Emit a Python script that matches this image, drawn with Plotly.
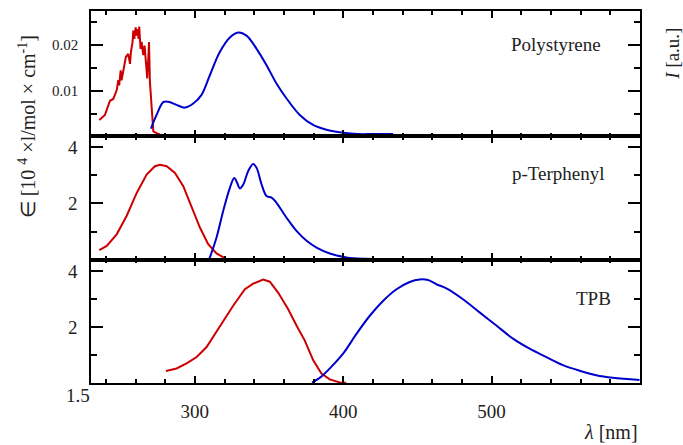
import plotly.graph_objects as go

# ---------------- data ----------------
ps_abs_x = [235.6, 239.4, 242.8, 245.0, 247.3, 248.4, 249.0, 250.0, 250.6, 252.2, 253.5, 255.1, 256.3, 256.9,
            258.0, 258.5, 259.2, 260.1, 260.8, 261.4, 262.1, 262.5, 263.4, 264.1, 265.2, 266.1, 267.0, 267.9,
            268.6, 269.1, 269.7, 270.9, 272.0, 274.2, 276.5]
ps_abs_y = [0.0036, 0.0047, 0.0078, 0.0082, 0.0101, 0.0123, 0.0112, 0.0145, 0.0123, 0.0152, 0.0174, 0.0181,
            0.0159, 0.0185, 0.0207, 0.0232, 0.0214, 0.0239, 0.0221, 0.0235, 0.0214, 0.0241, 0.0192, 0.0207,
            0.0178, 0.0199, 0.0167, 0.0127, 0.0170, 0.0207, 0.0120, 0.0054, 0.0011, 0.0007, 0.0004]
ps_em_x = [270.4, 274.2, 278.7, 282.0, 287.7, 293.3, 298.9, 304.5, 310.1, 316.8, 323.6, 329.2, 334.8, 341.6,
           348.3, 355.0, 361.8, 370.7, 379.7, 388.7, 399.9, 410.0, 420.0, 433.6]
ps_em_y = [0.0017, 0.0047, 0.0075, 0.0076, 0.0069, 0.0063, 0.0072, 0.0091, 0.0134, 0.0185, 0.0217, 0.0228,
           0.0221, 0.0192, 0.0156, 0.0116, 0.0083, 0.0047, 0.0025, 0.00145, 0.0008, 0.0005, 0.0005, 0.0005]

pt_abs_x = [235.6, 240.6, 247.3, 254.0, 260.8, 267.5, 273.1, 276.5, 281.0, 286.6, 292.2, 297.8, 303.4, 309.0,
            314.6, 321.4]
pt_abs_y = [0.34, 0.49, 0.90, 1.55, 2.37, 3.02, 3.32, 3.37, 3.32, 3.08, 2.61, 1.90, 1.14, 0.55, 0.22, 0.02]
pt_em_x = [309.7, 314.6, 319.1, 323.6, 326.5, 328.5, 330.3, 332.6, 335.9, 339.3, 341.6, 345.0, 348.3, 351.7,
           355.0, 361.8, 368.5, 375.3, 382.0, 391.0, 402.2, 415.0, 430.0]
pt_em_y = [0.02, 0.79, 1.73, 2.55, 2.90, 2.73, 2.53, 2.67, 3.14, 3.40, 3.26, 2.67, 2.26, 2.20, 2.02, 1.49,
           1.02, 0.67, 0.43, 0.22, 0.08, 0.03, 0.02]

tpb_abs_x = [280.5, 287.7, 294.4, 301.2, 307.9, 313.5, 319.1, 325.8, 333.7, 339.3, 346.0, 350.5, 356.1, 362.8,
             368.5, 374.1, 379.7, 385.3, 390.9, 397.7, 402.0]
tpb_abs_y = [0.43, 0.52, 0.70, 0.93, 1.29, 1.76, 2.23, 2.77, 3.36, 3.56, 3.71, 3.63, 3.24, 2.65, 2.06, 1.52,
             0.82, 0.34, 0.13, 0.02, 0.01]
tpb_em_x = [379.0, 385.0, 390.9, 399.9, 408.9, 417.9, 426.8, 435.9, 444.8, 451.5, 457.1, 462.8, 469.5, 480.7,
            491.9, 503.2, 514.4, 525.6, 536.9, 548.1, 559.3, 570.5, 581.7, 599.7]
tpb_em_y = [0.01, 0.22, 0.52, 1.05, 1.76, 2.41, 2.94, 3.36, 3.62, 3.71, 3.69, 3.54, 3.39, 3.00, 2.53, 2.06,
            1.59, 1.23, 0.93, 0.64, 0.44, 0.28, 0.19, 0.11]

panel_names = ["Polystyrene", "p-Terphenyl", "TPB"]
x_ticks = [300, 400, 500]
x_minor = [240, 260, 280, 320, 340, 360, 380, 420, 440, 460, 480, 520, 540, 560, 580]
top_ticks = [0.01, 0.02]
top_minor = [0.005, 0.015, 0.025]
mid_ticks = [2, 4]
mid_minor = [1, 3]

RED = "#cc0000"
BLUE = "#0000cc"
TXT = "#222222"
FONT = "Liberation Serif"

fig = go.Figure()
pairs = [(ps_abs_x, ps_abs_y, ps_em_x, ps_em_y, "x", "y"),
         (pt_abs_x, pt_abs_y, pt_em_x, pt_em_y, "x2", "y2"),
         (tpb_abs_x, tpb_abs_y, tpb_em_x, tpb_em_y, "x3", "y3")]
for ax, ay, ex, ey, xa, ya in pairs:
    fig.add_trace(go.Scatter(x=ax, y=ay, mode="lines", line=dict(color=RED, width=2), xaxis=xa, yaxis=ya,
                             showlegend=False))
    fig.add_trace(go.Scatter(x=ex, y=ey, mode="lines", line=dict(color=BLUE, width=2, shape="spline"),
                             xaxis=xa, yaxis=ya, showlegend=False))

XR = [230, 600]
d_bot = 124 / 374
d_mid = 248 / 374


def minor_ticks(vals, ticks, length):
    return dict(tickmode="array", tickvals=vals, ticks=ticks, ticklen=length, tickwidth=1.5,
                tickcolor="black", showgrid=False)


def xaxis_common(anchor, labels):
    return dict(range=XR, anchor=anchor, showline=True, linewidth=1.6, linecolor="black", mirror="ticks",
                ticks="inside", ticklen=7, tickwidth=2, tickcolor="black", tickmode="array", tickvals=x_ticks,
                showticklabels=labels, tickfont=dict(family=FONT, size=19, color=TXT),
                ticklabelstandoff=10, showgrid=False, zeroline=False,
                minor=minor_ticks(x_minor, "inside", 4))


def yaxis_common(domain, anchor, rng, tv, mv, fs):
    return dict(domain=domain, anchor=anchor, range=rng, showline=True, linewidth=1.6, linecolor="black",
                mirror="ticks", ticks="inside", ticklen=12, tickwidth=2, tickcolor="black",
                tickmode="array", tickvals=tv,
                tickfont=dict(family=FONT, size=fs, color=TXT), ticklabelstandoff=8,
                showgrid=False, zeroline=False,
                minor=minor_ticks(mv, "inside", 6))


fig.update_layout(
    width=683, height=445,
    margin=dict(l=91, r=43, t=9, b=62),
    paper_bgcolor="white", plot_bgcolor="rgba(0,0,0,0)",
    xaxis=xaxis_common("y", False),
    xaxis2=xaxis_common("y2", False),
    xaxis3=xaxis_common("y3", True),
    yaxis=yaxis_common([d_mid, 1], "x", [0, 0.0275], top_ticks, top_minor, 15),
    yaxis2=yaxis_common([d_bot, d_mid], "x2", [0, 4.38], mid_ticks, mid_minor, 19),
    yaxis3=yaxis_common([0, d_bot], "x3", [0, 4.42], mid_ticks, mid_minor, 19),
)

ann = []
label_pos = [(0.9326, 0.909), (0.9399, 0.5623), (0.951, 0.227)]
for name, (px, py) in zip(panel_names, label_pos):
    ann.append(dict(text=name, x=px, y=py, xref="paper", yref="paper", xanchor="right", yanchor="middle",
                    showarrow=False, font=dict(family=FONT, size=19, color=TXT)))
ann.append(dict(text="∈ [10 <sup>4</sup> ×l/mol × cm<sup>-1</sup>]", x=-0.1166, y=0.69, xref="paper",
                yref="paper", textangle=-90, showarrow=False, xanchor="center", yanchor="middle",
                font=dict(family=FONT, size=20, color=TXT)))
ann.append(dict(text="<i>I</i> [a.u.]", x=1.060, y=0.885, xref="paper", yref="paper", textangle=-90,
                showarrow=False, xanchor="center", yanchor="middle",
                font=dict(family=FONT, size=19, color=TXT)))
ann.append(dict(text="<i>λ</i> [nm]", x=1.0, y=-0.131, xref="paper", yref="paper", xanchor="right",
                yanchor="middle", showarrow=False, font=dict(family=FONT, size=20, color=TXT)))
ann.append(dict(text="1.5", x=-0.0237, y=-0.0348, xref="paper", yref="paper", xanchor="center",
                yanchor="middle", showarrow=False, font=dict(family=FONT, size=19, color=TXT)))
fig.update_layout(annotations=ann)

fig.write_html("out.html")
